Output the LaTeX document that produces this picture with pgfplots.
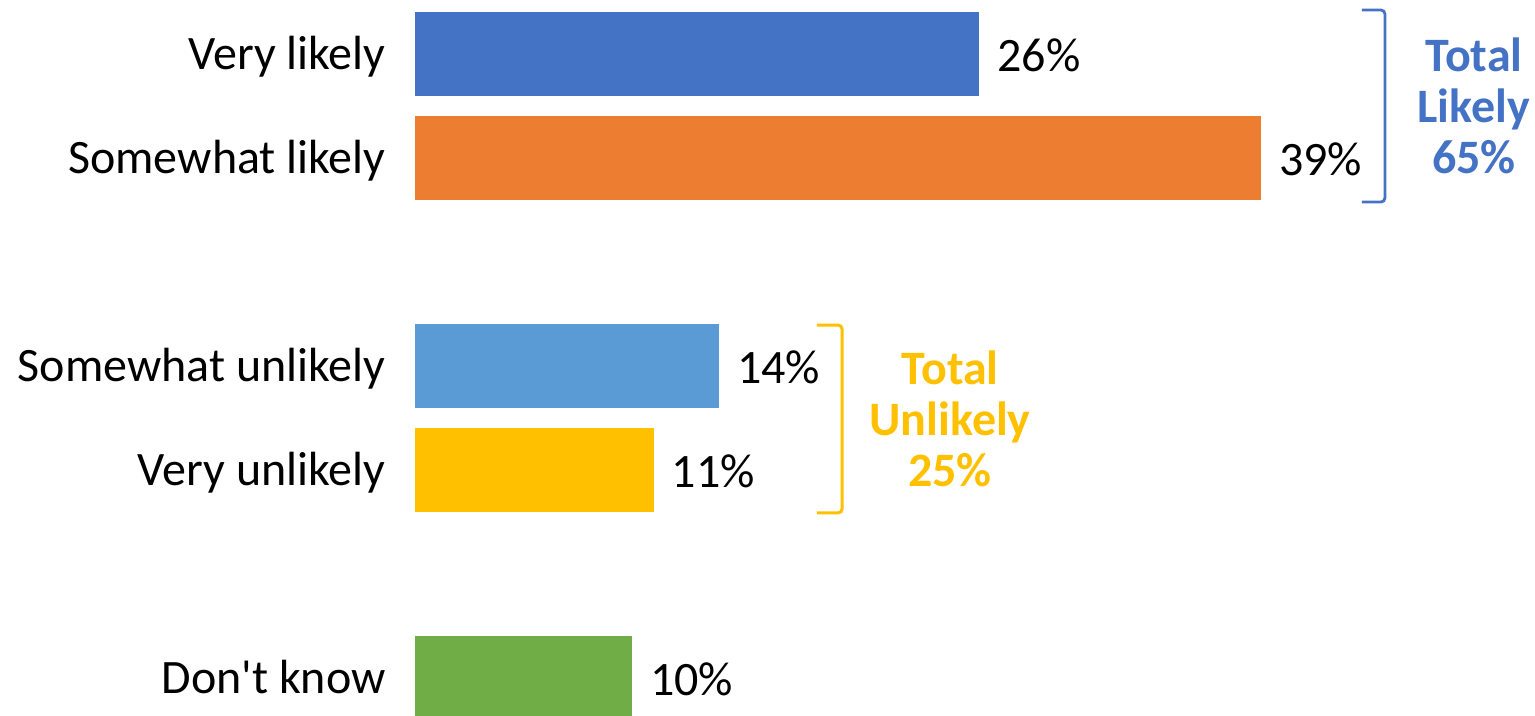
\documentclass[border=0pt]{standalone}
\usepackage{fontspec}
\setmainfont{Carlito}[Ligatures=TeXOff]
\usepackage{pgfplots}
\pgfplotsset{compat=1.18}
\definecolor{cBlue}{HTML}{4472C4}
\definecolor{cOrange}{HTML}{ED7D31}
\definecolor{cLBlue}{HTML}{5B9BD5}
\definecolor{cGold}{HTML}{FFC000}
\definecolor{cGreen}{HTML}{70AD47}
\begin{document}
\begin{tikzpicture}
\begin{axis}[
  name=ax,
  scale only axis,
  width=767.5pt, height=358pt,
  xmin=-19.133, xmax=51.637,
  ymin=-0.5192, ymax=6.3654,
  y dir=reverse,
  axis lines=none,
  xtick=\empty, ytick=\empty,
  clip=false,
  /pgf/number format/assume math mode=true,
  xbar, bar width=0.8077, bar shift=0pt,
  point meta=x,
  nodes near coords={\pgfmathprintnumber{\pgfplotspointmeta}\%},
  nodes near coords style={anchor=base west, inner sep=0pt, xshift=9pt, yshift=-9pt, font=\fontsize{24}{25.5}\selectfont, text=black},
  every axis plot/.append style={draw=none},
]
\addplot[fill=cBlue] coordinates {(26,0)};
\addplot[fill=cOrange] coordinates {(39,1)};
\addplot[fill=cLBlue] coordinates {(14,3)};
\addplot[fill=cGold] coordinates {(11,4)};
\addplot[fill=cGreen] coordinates {(10,6)};

\begin{scope}[every node/.style={anchor=base east, inner sep=0pt, yshift=-8pt, font=\fontsize{24}{25.5}\selectfont}]
\node at (axis cs:-1.337,0) {Very likely};
\node at (axis cs:-1.337,1) {Somewhat likely};
\node at (axis cs:-1.337,3) {Somewhat unlikely};
\node at (axis cs:-1.337,4) {Very unlikely};
\node at (axis cs:-1.337,6) {Don't know};
\end{scope}

\draw[cBlue, line width=1.4pt, rounded corners=2pt] (axis cs:43.66,-0.423) -- (axis cs:44.72,-0.423) -- (axis cs:44.72,1.423) -- (axis cs:43.66,1.423);
\draw[cGold, line width=1.5pt, rounded corners=2pt] (axis cs:18.53,2.606) -- (axis cs:19.69,2.606) -- (axis cs:19.69,4.413) -- (axis cs:18.53,4.413);

\node[align=center, text=cBlue, inner sep=0pt, font=\fontsize{24}{25.5}\selectfont\bfseries] at (axis cs:48.82,0.5) {Total\\Likely\\65\%};
\node[align=center, text=cGold, inner sep=0pt, font=\fontsize{24}{25.5}\selectfont\bfseries] at (axis cs:24.67,3.51) {Total\\Unlikely\\25\%};
\end{axis}
\pgfresetboundingbox
\path (ax.south west) rectangle (ax.north east);
\end{tikzpicture}
\end{document}
